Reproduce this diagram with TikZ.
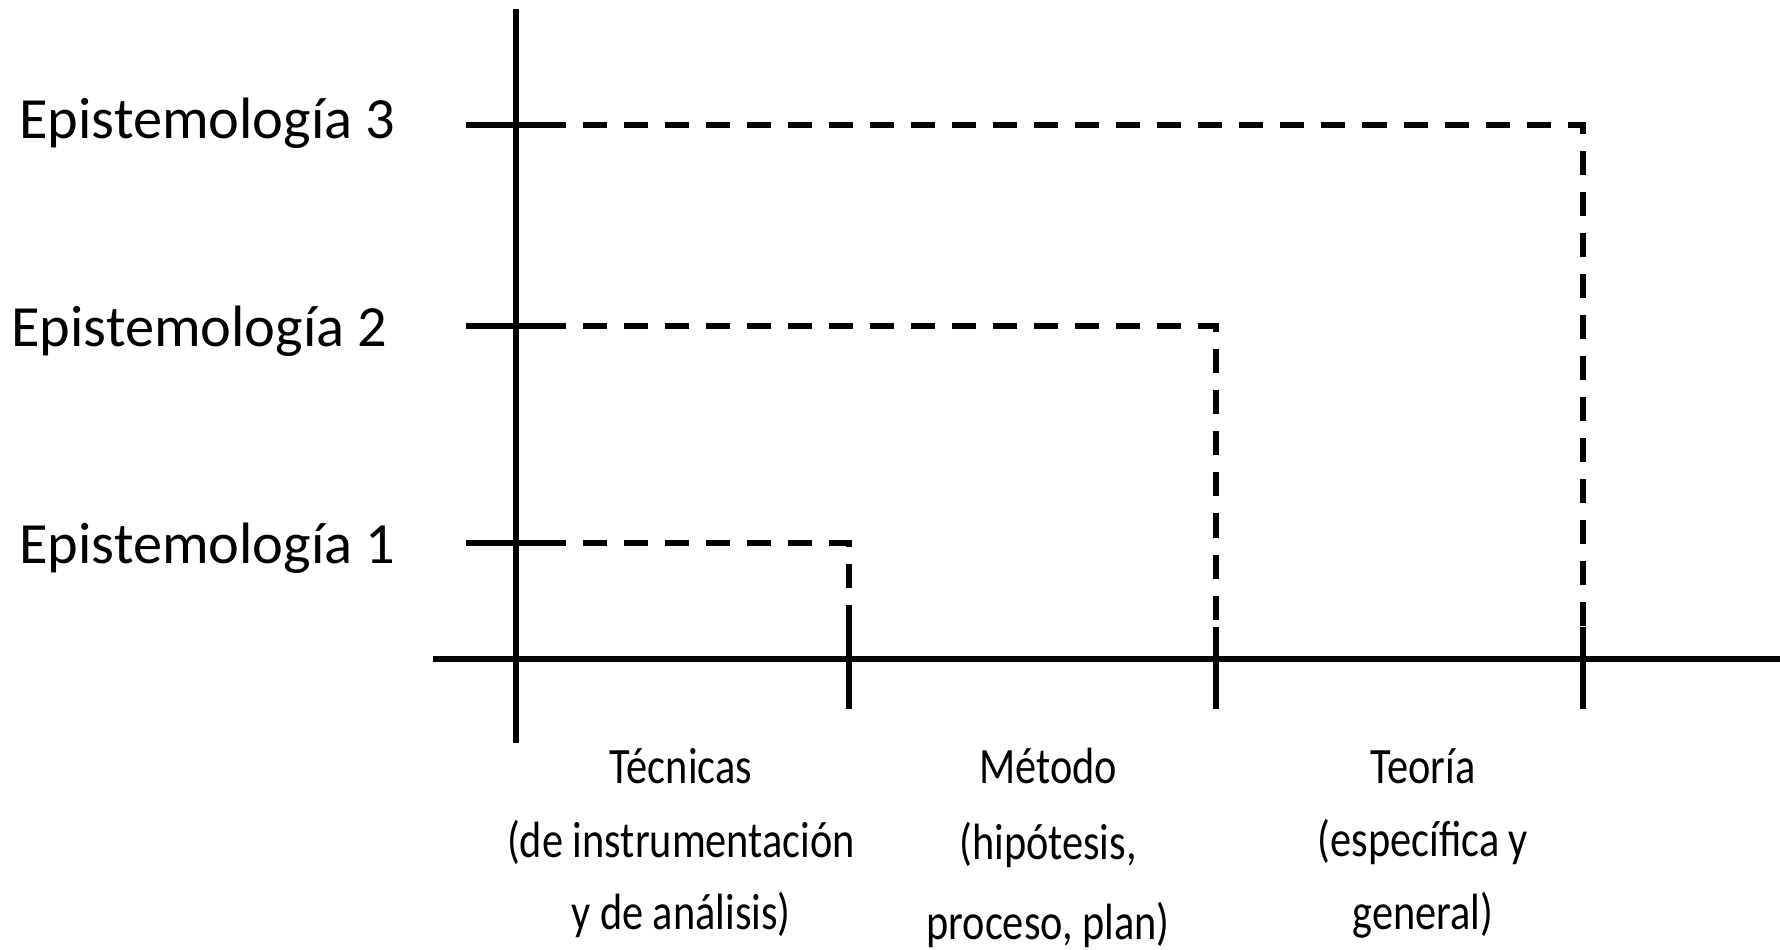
\documentclass[tikz,border=0pt]{standalone}
\usepackage{fontspec}
\setmainfont{Carlito}
\tikzset{
	axis/.style={line width=1.7pt},
	level/.style={line width=1.7pt, dash pattern=on 0.24cm off 0.17cm},
	epi/.style={anchor=east, font=\fontsize{16.6}{20}\selectfont, inner sep=0pt},
	col/.style={font=\fontsize{14.5}{17}\selectfont, inner sep=0pt}
}
\newcommand{\narrow}[1]{\scalebox{0.83}[1]{#1}}
\begin{document}
	\begin{tikzpicture}[x=0.01cm, y=-0.01cm]
	\useasboundingbox (0,0) rectangle (1780,949);
	% axes
	\draw[axis] (516,9) -- (516,743);
	\draw[axis] (433,659) -- (1780,659);
	% levels
	\node[epi] (e3) at (396,123) {Epistemología 3};
	\node[epi] (e2) at (388,331) {Epistemología 2};
	\node[epi] (e1) at (396,548) {Epistemología 1};
	\draw[axis] (466,125) -- (566,125);
	\draw[axis] (466,326) -- (566,326);
	\draw[axis] (466,543) -- (566,543);
	\draw[level, dash phase=0.24cm] (566,125) -- (1583,125) -- (1583,659);
	\draw[level, dash phase=0.24cm] (566,326) -- (1216,326) -- (1216,659);
	\draw[level, dash phase=0.24cm] (566,543) -- (849,543) -- (849,659);
	% ticks
	\draw[axis] (849,627) -- (849,709);
	\draw[axis] (1216,627) -- (1216,709);
	\draw[axis] (1583,627) -- (1583,709);
	% columns
	\node[col] (tec) at (681,766) {\narrow{Técnicas}};
	\node[col] (tec2) at (681,842) {\narrow{(de instrumentación}};
	\node[col] (tec3) at (681,915) {\narrow{y de análisis)}};
	\node[col] (met) at (1048,766) {\narrow{Método}};
	\node[col] (met2) at (1048,845) {\narrow{(hipótesis,}};
	\node[col] (met3) at (1048,925) {\narrow{proceso, plan)}};
	\node[col] (teo) at (1423,766) {\narrow{Teoría}};
	\node[col] (teo2) at (1423,842) {\narrow{(específica y}};
	\node[col] (teo3) at (1423,915) {\narrow{general)}};
	\end{tikzpicture}
\end{document}
